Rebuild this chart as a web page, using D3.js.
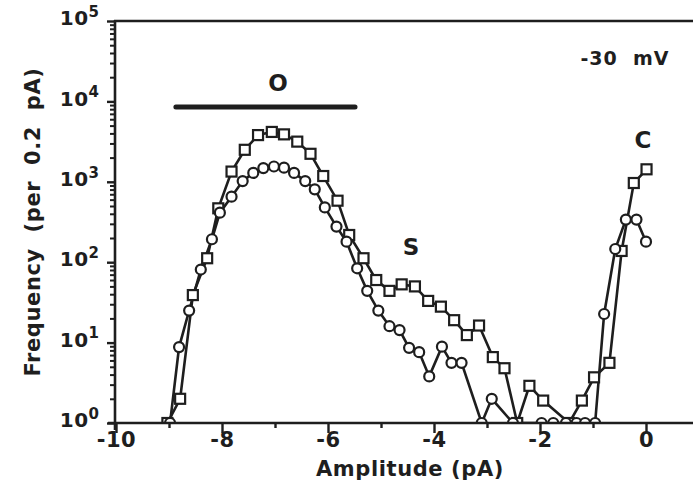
<!DOCTYPE html>
<html>
<head>
<meta charset="utf-8">
<script src="https://cdn.jsdelivr.net/npm/d3@7"></script>
<style>
  body { margin: 0; background: #fff; }
  text { font-family: "DejaVu Sans", sans-serif; font-weight: bold; fill: #1e1e1e; }
</style>
</head>
<body>
<div class="canva"></div>
<script>
// squares: amplitude (pA) and counts per bin
const sqAmp = [-9.03, -8.79, -8.55, -8.28, -8.07, -7.82, -7.57, -7.32, -7.06, -6.83, -6.58, -6.33, -6.09,
  -5.82, -5.60, -5.33, -5.09, -4.84, -4.61, -4.36, -4.11, -3.87, -3.62, -3.38, -3.15, -2.89, -2.67,
  -2.43, -2.20, -1.94, -1.45, -1.21, -0.98, -0.69, -0.46, -0.23, 0.01];
const sqFreq = [1, 2, 39, 112, 468, 1340, 2500, 3810, 4170, 3890, 3160, 2230, 1180,
  582, 218, 112, 60, 44, 53, 50, 33, 28, 19, 12.4, 16.3, 6.6, 4.8,
  1, 2.9, 1.9, 1, 1.9, 3.7, 5.6, 138, 966, 1430];

// circles
const cirAmp = [-8.98, -8.81, -8.62, -8.40, -8.19, -8.04, -7.82, -7.61, -7.41, -7.22, -7.02, -6.83, -6.64,
  -6.43, -6.25, -6.06, -5.84, -5.65, -5.45, -5.26, -5.05, -4.84, -4.65, -4.47, -4.28, -4.09, -3.85,
  -3.67, -3.48, -3.10, -2.91, -2.51, -1.97, -1.75, -1.51, -1.31, -1.15, -0.96, -0.79, -0.58, -0.38, -0.18, 0.0];
const cirFreq = [1, 8.8, 25, 81, 193, 413, 653, 1020, 1290, 1480, 1550, 1500, 1290,
  1020, 805, 480, 277, 180, 84, 44, 25, 16, 14.3, 8.6, 7.6, 3.8, 8.9,
  5.6, 5.6, 1, 2, 1, 1, 1, 1, 1, 1, 1, 22.7, 146, 339, 339, 180];

const xMajor = [-10, -8, -6, -4, -2, 0];
const xMinor = [-9, -7, -5, -3, -1];
const yMajor = [1, 10, 100, 1000, 10000, 100000];
const openBar = [-8.87, -5.49]; // "O" level bar, at 8500
const barLevel = 8500;

const W = 693, H = 493;
const svg = d3.select(".canva").append("svg").attr("width", W).attr("height", H);

const x = d3.scaleLinear().domain([-10, 1]).range([116, 699]);
const y = d3.scaleLog().domain([1, 1e5]).range([423, 21]);

svg.append("clipPath").attr("id", "clip")
  .append("rect").attr("x", 116).attr("y", 21).attr("width", 600).attr("height", 402);

const plot = svg.append("g").attr("clip-path", "url(#clip)");

const sq = sqAmp.map((a, i) => ({ a: a, f: sqFreq[i] }));
const ci = cirAmp.map((a, i) => ({ a: a, f: cirFreq[i] }));

const line = d3.line().x(d => x(d.a)).y(d => y(d.f));

plot.append("path").datum(sq).attr("d", line)
  .attr("fill", "none").attr("stroke", "#1e1e1e").attr("stroke-width", 2.6);
plot.append("path").datum(ci).attr("d", line)
  .attr("fill", "none").attr("stroke", "#1e1e1e").attr("stroke-width", 2.6);

plot.selectAll("rect.sq").data(sq).join("rect").attr("class", "sq")
  .attr("x", d => x(d.a) - 5).attr("y", d => y(d.f) - 5)
  .attr("width", 10).attr("height", 10)
  .attr("fill", "#fff").attr("stroke", "#1e1e1e").attr("stroke-width", 2.2);

plot.selectAll("circle.ci").data(ci).join("circle").attr("class", "ci")
  .attr("cx", d => x(d.a)).attr("cy", d => y(d.f)).attr("r", 5)
  .attr("fill", "#fff").attr("stroke", "#1e1e1e").attr("stroke-width", 2.2);

// open level bar
svg.append("line")
  .attr("x1", x(openBar[0])).attr("x2", x(openBar[1]))
  .attr("y1", y(barLevel)).attr("y2", y(barLevel))
  .attr("stroke", "#1e1e1e").attr("stroke-width", 5).attr("stroke-linecap", "round");

// axes
const ax = svg.append("g").attr("transform", "translate(0,423)")
  .call(d3.axisBottom(x).tickValues(xMajor).tickSize(10).tickFormat(d => d));
ax.select(".domain").remove();
ax.selectAll("line").attr("stroke", "#1e1e1e").attr("stroke-width", 2.4);
ax.selectAll("text").attr("y", 9).attr("dy", "0.72em")
  .style("font-size", "21px").style("letter-spacing", "0.5px");

const axm = svg.append("g").attr("transform", "translate(0,423)")
  .call(d3.axisBottom(x).tickValues(xMinor).tickSize(5).tickFormat(""));
axm.select(".domain").remove();
axm.selectAll("line").attr("stroke", "#1e1e1e").attr("stroke-width", 2.4);

const minorY = y.ticks().filter(v => yMajor.indexOf(v) < 0);
const aym = svg.append("g").attr("transform", "translate(115,0)")
  .call(d3.axisLeft(y).tickValues(minorY).tickSize(5).tickFormat(""));
aym.select(".domain").remove();
aym.selectAll("line").attr("stroke", "#1e1e1e").attr("stroke-width", 2);

const ay = svg.append("g").attr("transform", "translate(115,0)")
  .call(d3.axisLeft(y).tickValues(yMajor).tickSize(8).tickPadding(0).tickFormat(""));
ay.select(".domain").remove();
ay.selectAll("line").attr("stroke", "#1e1e1e").attr("stroke-width", 2.4);

const lbl = ay.selectAll(".tick").append("text")
  .attr("x", -16).attr("dy", "0.36em").attr("text-anchor", "end");
lbl.append("tspan").style("font-size", "20px").style("letter-spacing", "0.5px").text("10");
lbl.append("tspan").style("font-size", "15px").attr("dy", "-0.55em")
  .text(d => Math.round(Math.log10(d)));

// frame lines
svg.append("line").attr("x1", 108).attr("x2", W).attr("y1", 423).attr("y2", 423)
  .attr("stroke", "#1e1e1e").attr("stroke-width", 2.6);
svg.append("line").attr("x1", 115).attr("x2", 115).attr("y1", 20).attr("y2", 430)
  .attr("stroke", "#1e1e1e").attr("stroke-width", 2.6);
svg.append("line").attr("x1", 114).attr("x2", W).attr("y1", 21).attr("y2", 21)
  .attr("stroke", "#1e1e1e").attr("stroke-width", 2.4);

// titles
svg.append("text").attr("x", 410).attr("y", 476).attr("text-anchor", "middle")
  .style("font-size", "21px").style("letter-spacing", "0.6px").text("Amplitude (pA)");
svg.append("text").attr("transform", "translate(40,222) rotate(-90)").attr("text-anchor", "middle")
  .style("font-size", "21px").style("letter-spacing", "0.6px").style("white-space", "pre")
  .text("Frequency  (per  0.2  pA)");

svg.append("text").attr("x", 625).attr("y", 65).attr("text-anchor", "middle")
  .style("font-size", "19px").style("letter-spacing", "1px").style("white-space", "pre").text("-30  mV");
svg.append("text").attr("x", 278).attr("y", 91).attr("text-anchor", "middle")
  .style("font-size", "23px").text("O");
svg.append("text").attr("x", 411).attr("y", 255).attr("text-anchor", "middle")
  .style("font-size", "23px").text("S");
svg.append("text").attr("x", 643).attr("y", 148).attr("text-anchor", "middle")
  .style("font-size", "23px").text("C");
</script>
</body>
</html>
